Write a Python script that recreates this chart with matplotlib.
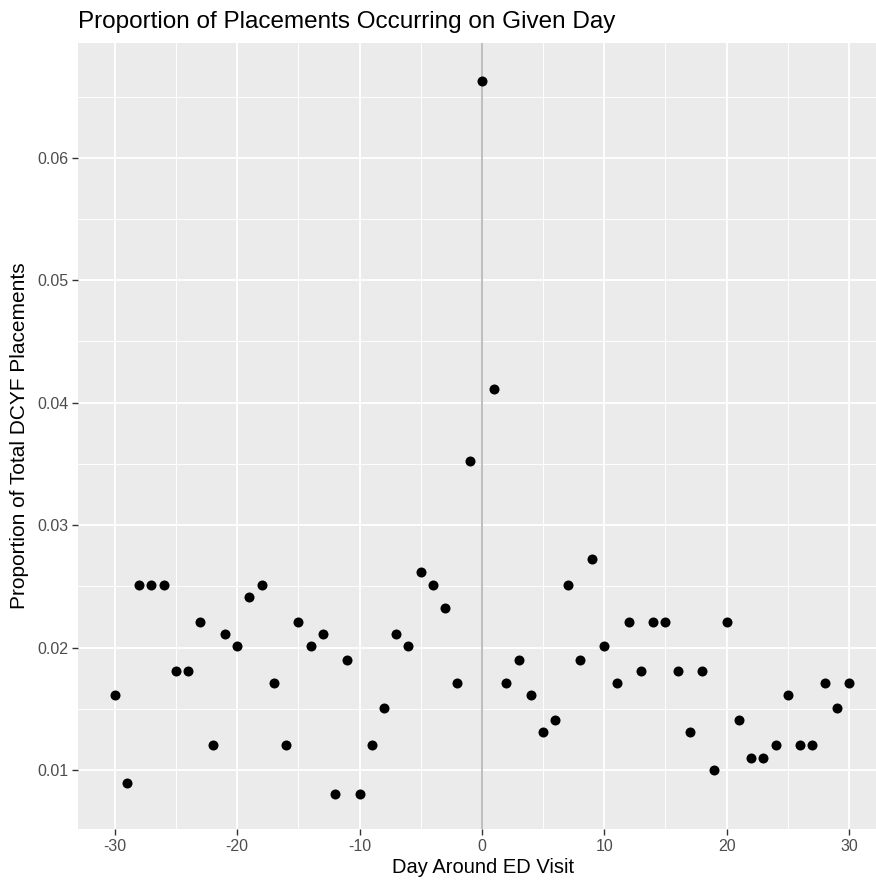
import numpy as np
import matplotlib
matplotlib.use('Agg')
import matplotlib.pyplot as plt
from matplotlib.ticker import MultipleLocator

plt.rcParams['font.family'] = ['Liberation Sans', 'DejaVu Sans']

# day relative to ED visit and share of all DCYF placements on that day
days = list(range(-30, 31))
proportion = [
    0.0161, 0.0089, 0.0251, 0.0251, 0.0251, 0.0181, 0.0181, 0.0221, 0.0120, 0.0211,
    0.0201, 0.0241, 0.0251, 0.0171, 0.0120, 0.0221, 0.0201, 0.0211, 0.0080, 0.0190,
    0.0080, 0.0120, 0.0151, 0.0211, 0.0201, 0.0262, 0.0251, 0.0232, 0.0171, 0.0352,
    0.0663,
    0.0411, 0.0171, 0.0190, 0.0161, 0.0131, 0.0141, 0.0251, 0.0190, 0.0272, 0.0201,
    0.0171, 0.0221, 0.0181, 0.0221, 0.0221, 0.0181, 0.0131, 0.0181, 0.0100, 0.0221,
    0.0141, 0.0110, 0.0110, 0.0120, 0.0161, 0.0120, 0.0120, 0.0171, 0.0151, 0.0171,
]

W, H = 876, 888
fig = plt.figure(figsize=(W / 100, H / 100), dpi=100)
left, right, top, bottom = 78, 876, 42.7, 829
ax = fig.add_axes([left / W, (H - bottom) / H, (right - left) / W, (bottom - top) / H])

ax.set_facecolor('#EBEBEB')
for s in ax.spines.values():
    s.set_visible(False)

ax.xaxis.set_major_locator(MultipleLocator(10))
ax.xaxis.set_minor_locator(MultipleLocator(5))
ax.yaxis.set_major_locator(MultipleLocator(0.01))
ax.yaxis.set_minor_locator(MultipleLocator(0.005))
ax.grid(which='major', color='white', lw=1.3)
ax.grid(which='minor', color='white', lw=0.65)
ax.set_axisbelow(True)

ax.axvline(0, color='#BEBEBE', lw=1.4, zorder=1.5)
ax.scatter(days, proportion, s=52, color='black', zorder=3, linewidths=0)

ax.set_xlim(-33, 32.2)
ax.set_ylim(0.00518, 0.0694)

ax.set_xticks([-30, -20, -10, 0, 10, 20, 30])
ax.set_xticklabels(['-30', '-20', '-10', '0', '10', '20', '30'])
ax.set_yticks([0.01, 0.02, 0.03, 0.04, 0.05, 0.06])
ax.set_yticklabels(['0.01', '0.02', '0.03', '0.04', '0.05', '0.06'])
ax.tick_params(which='major', length=4, width=1.0, color='#333333',
               labelsize=11.5, labelcolor='#4D4D4D', pad=3)
ax.tick_params(which='minor', length=0)

ax.set_xlabel('Day Around ED Visit', fontsize=14.5, color='black')
ax.xaxis.set_label_coords((483 - left) / (right - left), -0.037, transform=ax.transAxes)
ax.set_ylabel('Proportion of Total DCYF Placements', fontsize=15, color='black', labelpad=6)

fig.text(left / W, 1 - 22 / H, 'Proportion of Placements Occurring on Given Day',
         fontsize=17.5, ha='left', va='center')

fig.savefig('out.png', dpi=100, facecolor='white')
